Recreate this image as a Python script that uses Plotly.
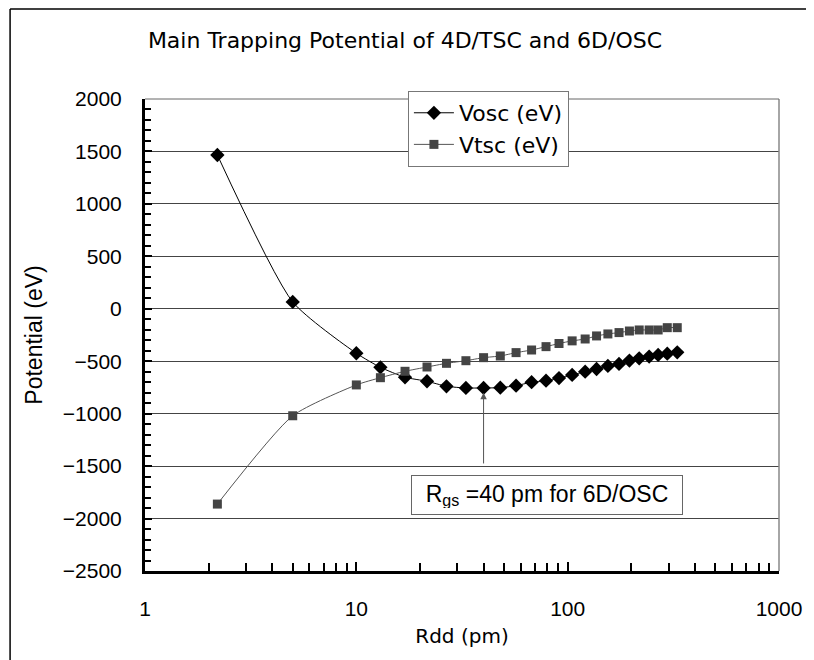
import math
import plotly.graph_objects as go

rdd = [2.2, 5, 10, 13, 17, 21.6, 26.7, 33, 40, 48, 57, 67.5, 79, 91, 105,
       121, 137, 155, 175, 196, 218, 243, 268, 296, 330]
v_osc = [1466, 65, -424, -558, -653, -691, -739, -755, -755, -752, -733, -700,
         -685, -661, -631, -600, -574, -545, -526, -494, -472, -456, -440, -428, -415]
v_tsc = [-1862, -1020, -726, -657, -596, -555, -520, -495, -466, -450, -418, -393,
         -361, -331, -306, -288, -259, -240, -227, -212, -202, -202, -202, -180, -180]

title_text = "Main Trapping Potential of 4D/TSC and 6D/OSC"
x_title = "Rdd (pm)"
y_title = "Potential (eV)"
note_text = "R<sub>gs</sub> =40 pm for 6D/OSC"
note_x = 79.7
note_y = -1775
arrow_x = 40
arrow_head_y = -800
arrow_tail_y = -1489

JP = "DejaVu Sans"
AR = "Liberation Sans, Arial"

fig = go.Figure()
fig.add_trace(go.Scatter(
    x=rdd, y=v_osc, name="Vosc (eV)", mode="lines+markers",
    line=dict(color="black", width=1, shape="spline", smoothing=0.6),
    marker=dict(symbol="diamond", size=11, color="black"),
))
fig.add_trace(go.Scatter(
    x=rdd, y=v_tsc, name="Vtsc (eV)", mode="lines+markers",
    line=dict(color="#555555", width=1, shape="spline", smoothing=0.6),
    marker=dict(symbol="square", size=9, color="#444444"),
))

fig.update_layout(
    width=806, height=652,
    margin=dict(l=137, r=30, t=91, b=89),
    paper_bgcolor="white", plot_bgcolor="white",
    showlegend=True,
    title=dict(text=title_text, x=397 / 806, xanchor="center", xref="container",
               y=1 - 32 / 652, yref="container", yanchor="middle",
               font=dict(family=JP, size=22, color="black")),
    legend=dict(x=0.4147, y=1.017, xanchor="left", yanchor="top",
                bordercolor="#777777", borderwidth=1, bgcolor="white",
                font=dict(family=JP, size=22, color="black"),
                tracegroupgap=0, itemwidth=40),
    font=dict(family=AR, color="black"),
)

fig.update_xaxes(
    type="log", range=[0, 3], dtick=1,
    showline=True, linecolor="black", linewidth=3,
    ticks="inside", ticklen=9, tickwidth=2, tickcolor="black",
    minor=dict(ticks="inside", ticklen=8, tickwidth=2, tickcolor="black",
               dtick="D1", showgrid=False),
    showgrid=False, zeroline=False,
    tickfont=dict(family=AR, size=21), ticklabelstandoff=17,
    title=dict(text=x_title, font=dict(family=JP, size=20), standoff=10),
)
fig.update_yaxes(
    range=[-2500, 2000], dtick=500,
    showline=True, linecolor="black", linewidth=3,
    ticks="inside", ticklen=7, tickwidth=2, tickcolor="black",
    minor=dict(ticks="inside", ticklen=6, tickwidth=2, tickcolor="black",
               dtick=100, showgrid=False),
    showgrid=True, gridcolor="#444444", gridwidth=1,
    zeroline=False,
    tickfont=dict(family=AR, size=21), ticklabelstandoff=16,
    title=dict(text=y_title, font=dict(family=AR, size=23), standoff=14),
)

# plot-area right edge and outer frame
fig.add_shape(type="line", xref="paper", yref="paper", x0=1, x1=1, y0=0, y1=1,
              line=dict(color="#888888", width=1.5))
fig.add_shape(type="line", xref="paper", yref="paper", x0=0, x1=1, y0=1, y1=1,
              line=dict(color="#666666", width=1))
fig.add_shape(type="line", xref="paper", yref="paper", x0=-0.2128, x1=1.05,
              y0=1.1907, y1=1.1907, line=dict(color="black", width=1.5))
fig.add_shape(type="line", xref="paper", yref="paper", x0=-0.2128, x1=-0.2128,
              y0=1.1907, y1=-0.2, line=dict(color="black", width=1.5))

fig.add_annotation(
    x=math.log10(arrow_x), y=arrow_head_y, ax=math.log10(arrow_x), ay=arrow_tail_y,
    xref="x", yref="y", axref="x", ayref="y", text="",
    showarrow=True, arrowhead=2, arrowsize=1.3, arrowwidth=1, arrowcolor="#555555",
)
fig.add_annotation(
    x=math.log10(note_x), y=note_y, xref="x", yref="y", text=note_text,
    showarrow=False, font=dict(family=AR, size=23, color="black"),
    width=258, height=26, align="center",
    bordercolor="#666666", borderwidth=1, borderpad=6, bgcolor="white",
)

fig.write_html("out.html")
